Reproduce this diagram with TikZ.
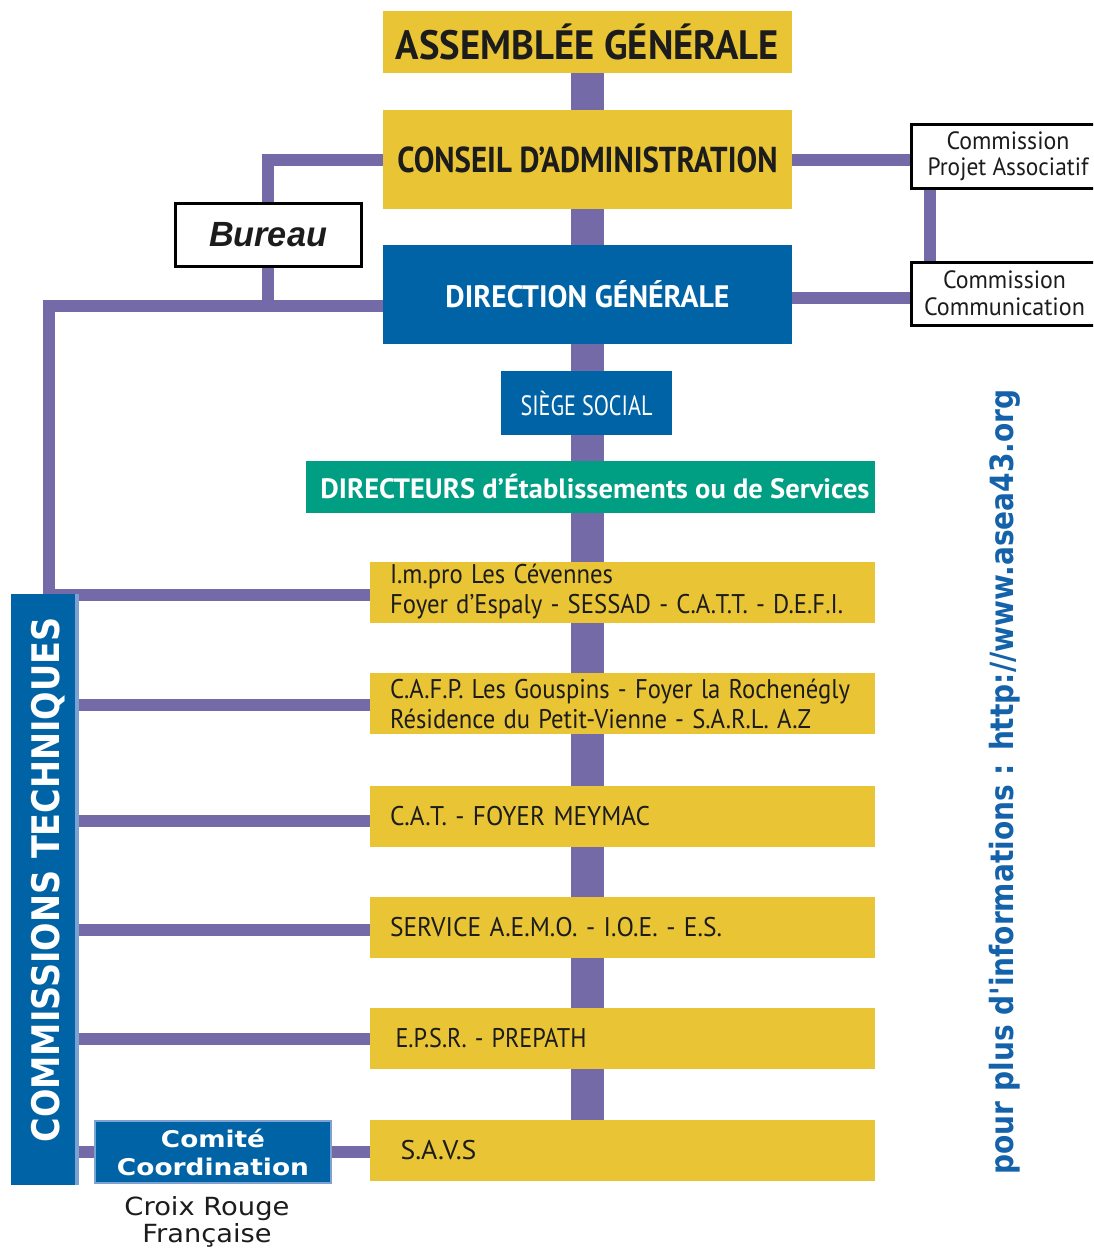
\documentclass[tikz,border=0pt]{standalone}
\usepackage{fontspec}
\setmainfont{PT Sans}
\newfontfamily\libsans{Liberation Sans}
\newfontfamily\dejavu{DejaVu Sans}
\usepackage{graphicx}
\usetikzlibrary{backgrounds,calc}
\definecolor{ayellow}{RGB}{233,196,52}
\definecolor{ablue}{RGB}{0,99,166}
\definecolor{agreen}{RGB}{0,158,130}
\definecolor{apurple}{RGB}{117,106,168}
\definecolor{alight}{RGB}{125,162,210}
\definecolor{urlblue}{RGB}{20,98,170}
\definecolor{ink}{RGB}{28,28,28}
\newcommand\fw[2]{\resizebox{#1}{\height}{#2}}
\tikzset{
  ybox/.style={rectangle, fill=ayellow, inner sep=0pt, text=ink},
  bbox/.style={rectangle, fill=ablue, inner sep=0pt, text=white},
  rowbox/.style={rectangle, fill=ayellow, minimum width=505pt, minimum height=61pt,
    text width=465pt, inner xsep=20pt, inner ysep=0pt, align=left, text=ink,
    font=\fontsize{27}{30}\selectfont},
  wbox/.style={rectangle, fill=white, draw=black, line width=3pt, inner sep=0pt, text=ink},
  conn/.style={draw=apurple, line width=12pt},
  trunk/.style={draw=apurple, line width=33pt},
}
\begin{document}
\begin{tikzpicture}[x=1pt,y=-1pt]
\useasboundingbox (0,0) rectangle (1093,1248);
\clip (0,0) rectangle (1093,1248);
% main column
\node[ybox, minimum width=409pt, minimum height=62pt, font=\bfseries\fontsize{41}{41}\selectfont] (ag) at (587.5,42) {\fw{383pt}{ASSEMBLÉE GÉNÉRALE}};
\node[ybox, minimum width=409pt, minimum height=99pt, font=\bfseries\fontsize{36}{36}\selectfont] (ca) at (587.5,159.5) {\fw{380pt}{CONSEIL D'ADMINISTRATION}};
\node[bbox, minimum width=409pt, minimum height=99pt, font=\bfseries\fontsize{31}{31}\selectfont] (dg) at (587.5,294.5) {\fw{284pt}{DIRECTION GÉNÉRALE}};
\node[bbox, minimum width=171pt, minimum height=64pt, font=\fontsize{28}{28}\selectfont] (siege) at (586.5,403) {\fw{132pt}{SIÈGE SOCIAL}};
\node[rectangle, fill=agreen, text=white, inner sep=0pt, minimum width=569pt, minimum height=52pt, font=\bfseries\fontsize{28}{28}\selectfont] (dir) at (590.5,487) {\hspace*{9pt}\fw{549pt}{DIRECTEURS d'Établissements ou de Services}};
% rows
\node[rowbox] (r1) at (622.5,592) {\fw{223pt}{I.m.pro Les Cévennes}\\\fw{453pt}{Foyer d'Espaly - SESSAD - C.A.T.T. - D.E.F.I.}};
\node[rowbox] (r2) at (622.5,703.5) {\fw{460pt}{C.A.F.P. Les Gouspins - Foyer la Rochenégly}\\\fw{421pt}{Résidence du Petit-Vienne - S.A.R.L. A.Z}};
\node[rowbox] (r3) at (622.5,816) {\fw{260pt}{C.A.T. - FOYER MEYMAC}};
\node[rowbox] (r4) at (622.5,927) {\fw{332pt}{SERVICE A.E.M.O. - I.O.E. - E.S.}};
\node[rowbox] (r5) at (622.5,1038.5) {\hspace*{5.5pt}\fw{191pt}{E.P.S.R. - PREPATH}};
\node[rowbox] (savs) at (622.5,1150.5) {\hspace*{10.5pt}\fw{76pt}{S.A.V.S}};
% side boxes
\node[wbox, minimum width=186pt, minimum height=63pt, font=\libsans\bfseries\itshape\fontsize{35}{35}\selectfont] (bureau) at (268,234.5) {\fw{118pt}{Bureau}};
\node[wbox, minimum width=194pt, minimum height=64pt, align=center, font=\fontsize{25}{26}\selectfont] (cpa) at (1008,156) {\fw{123pt}{Commission}\\\fw{161pt}{Projet Associatif}};
\node[wbox, minimum width=187pt, minimum height=63pt, align=center, font=\fontsize{25}{27}\selectfont] (cc) at (1004.5,293.5) {\fw{123pt}{Commission}\\\fw{161pt}{Communication}};
% commissions techniques
\node[bbox, minimum width=64pt, minimum height=591pt] (ct) at (43,889.5) {};
\fill[alight] (ct.north east) rectangle ([xshift=4pt]ct.south east);
\node[rotate=90, text=white, inner sep=0pt, font=\dejavu\bfseries\fontsize{38}{38}\selectfont] (ctt) at (48,880) {\fw{525pt}{COMMISSIONS TECHNIQUES}};
\node[bbox, draw=alight, line width=1.5pt, minimum width=236pt, minimum height=62pt, align=center, font=\dejavu\bfseries\fontsize{23}{28}\selectfont] (comite) at (213,1152) {\fw{104pt}{Comité}\\\fw{192pt}{Coordination}};
\node[align=center, inner sep=0pt, text=ink, font=\dejavu\fontsize{25}{27}\selectfont] (croix) at (207,1222) {\fw{165pt}{Croix Rouge}\\\fw{129pt}{Française}};
\node[rotate=90, text=urlblue, inner sep=0pt, font=\dejavu\bfseries\fontsize{32}{32}\selectfont] (url) at (1005,782) {\fw{785pt}{pour plus d'informations : http://www.asea43.org}};
\coordinate (dgl) at (383,306);
\coordinate (l1) at (48.5,595);
% connectors
\begin{pgfonlayer}{background}
\fill[white] (0,0) rectangle (1093,1248);
\draw[trunk] (ag.south) -- (ag.south |- savs.north);
\draw[conn] (ca.west) -| (bureau.north);
\draw[conn] (bureau.south) -- (bureau.south |- dgl);
\draw[conn] (dgl) -| (l1) -- (l1 -| r1.west);
\draw[conn] (ca.east) -- (ca.east -| cpa.west);
\draw[conn] ([yshift=-3.5pt]dg.east) -- ([yshift=-3.5pt]dg.east -| cc.west);
\draw[conn] ([xshift=20pt]cpa.south west) -- ([xshift=20pt]cc.north west);
\draw[conn] ([yshift=-1.5pt]ct.east |- r2.west) -- ([yshift=-1.5pt]r2.west);
\draw[conn] ([yshift=-5pt]ct.east |- r3.west) -- ([yshift=-5pt]r3.west);
\draw[conn] ([yshift=-3pt]ct.east |- r4.west) -- ([yshift=-3pt]r4.west);
\draw[conn] (ct.east |- r5.west) -- (r5.west);
\draw[conn] (ct.east |- comite.west) -- (comite.west);
\draw[conn] (comite.east) -- (savs.west |- comite.east);
\end{pgfonlayer}
\end{tikzpicture}
\end{document}
